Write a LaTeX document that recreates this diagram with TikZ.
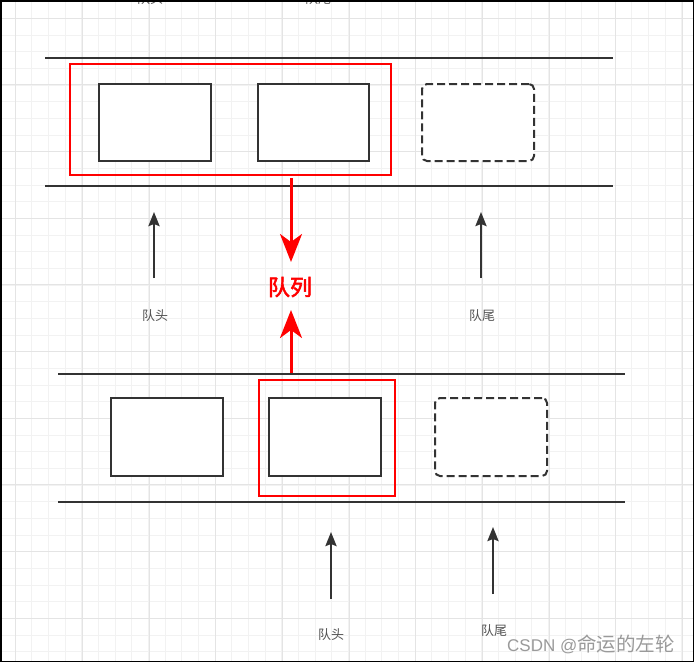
\documentclass[tikz,border=0pt]{standalone}
\usepackage{fontspec}
\setmainfont{Liberation Sans}
\newfontfamily\cjk{Noto Sans CJK SC}
\newfontfamily\cjkb[FakeBold=2.5]{Noto Sans CJK SC}
\newfontfamily\latn{Liberation Sans}
\usetikzlibrary{arrows.meta}
\definecolor{ink}{HTML}{333333}
\definecolor{gminor}{HTML}{F2F2F2}
\definecolor{gmajor}{HTML}{E4E4E4}
\definecolor{wm}{HTML}{9A9A9A}
\tikzset{
  slot/.style={draw=ink, line width=2pt, minimum width=112pt, minimum height=77pt, inner sep=0pt, fill=white},
  ghost/.style={slot, dash pattern=on 8pt off 4pt, rounded corners=5pt},
  frame/.style={draw=red, line width=1.4pt, inner sep=0pt},
  rail/.style={draw=ink, line width=2pt},
  ptr/.style={draw=ink, line width=2.5pt, -{Stealth[length=14pt,width=11pt,inset=2pt]}},
  redarrow/.style={draw=red, line width=3pt, -{Stealth[length=28pt,width=22pt,inset=8pt]}},
  lbl/.style={font=\cjk\fontsize{13pt}{15pt}\selectfont, text=ink!85, inner sep=0pt},
}
\begin{document}
\begin{tikzpicture}[x=1pt,y=-1pt]
\useasboundingbox (0,0) rectangle (694,662);
\begin{scope}
\clip (0,0) rectangle (694,662);
\fill[white] (0,0) rectangle (694,662);
% grid
\foreach \k in {-1,...,42} {
  \draw[gminor, line width=1pt] ({15+16.667*\k},0) -- ({15+16.667*\k},662);
}
\foreach \k in {-2,...,40} {
  \draw[gminor, line width=1pt] (0,{18.33+16.667*\k}) -- (694,{18.33+16.667*\k});
}
\foreach \k in {0,...,10} {
  \draw[gmajor, line width=1pt] ({15.7+66.67*\k},0) -- ({15.7+66.67*\k},662);
}
\foreach \k in {-1,...,10} {
  \draw[gmajor, line width=1pt] (0,{18.3+66.67*\k}) -- (694,{18.3+66.67*\k});
}
% cut-off labels at the very top (as in the reference)
\node[lbl] (topHead) at (150,-1.5) {队头};
\node[lbl] (topTail) at (318,-1.5) {队尾};
\end{scope}

% ===== top queue =====
\coordinate (r1a) at (45,58);  \coordinate (r1b) at (613,58);
\coordinate (r2a) at (45,186); \coordinate (r2b) at (613,186);
\draw[rail] (r1a) -- (r1b);
\draw[rail] (r2a) -- (r2b);
\node[frame, minimum width=321pt, minimum height=111pt] (topFrame) at (230.5,119.5) {};
\node[slot] (t1) at (155,122.5) {};
\node[slot, minimum width=111pt] (t2) at (313.5,122.5) {};
\node[ghost] (t3) at (478,122.5) {};

\coordinate (pa1) at (154,278); \coordinate (pa2) at (154,212);
\coordinate (pb1) at (481,278); \coordinate (pb2) at (481,212);
\draw[ptr] (pa1) -- (pa2);
\draw[ptr] (pb1) -- (pb2);
\node[lbl] (lh1) at (155,316) {队头};
\node[lbl] (lt1) at (482,316) {队尾};

% ===== middle label and red arrows =====
\node[font=\cjkb\fontsize{22pt}{24pt}\selectfont, text=red, inner sep=1pt] (qlabel) at (290,287) {队列};
\coordinate (ra1) at (291,178);
\coordinate (ra2) at (291,374);
\coordinate (rt1) at (291,262);
\coordinate (rt2) at (291,310);
\draw[redarrow] (ra1) -- (rt1);
\draw[redarrow] (ra2) -- (rt2);

% ===== bottom queue =====
\coordinate (r3a) at (58,374);  \coordinate (r3b) at (625,374);
\coordinate (r4a) at (58,502);  \coordinate (r4b) at (625,502);
\draw[rail] (r3a) -- (r3b);
\draw[rail] (r4a) -- (r4b);
\node[frame, minimum width=136pt, minimum height=116pt] (botFrame) at (327,438) {};
\node[slot, minimum height=78pt] (b1) at (167,437) {};
\node[slot, minimum height=78pt] (b2) at (325,437) {};
\node[ghost, minimum height=78pt] (b3) at (491,437) {};

\coordinate (pc1) at (331,599); \coordinate (pc2) at (331,532);
\coordinate (pd1) at (493,594); \coordinate (pd2) at (493,527);
\draw[ptr] (pc1) -- (pc2);
\draw[ptr] (pd1) -- (pd2);
\node[lbl] (lh2) at (331,635) {队头};
\node[lbl] (lt2) at (494,631) {队尾};

% watermark
\node[text=wm, anchor=base west, inner sep=0pt] (wmark) at (507,651)
  {{\latn\fontsize{17pt}{19pt}\selectfont CSDN @}{\cjk\fontsize{19.5pt}{21pt}\selectfont 命运的左轮}};

% outer frame
\draw[black, line width=1.5pt] (0.75,0.75) rectangle (693.25,661.25);
\end{tikzpicture}
\end{document}
